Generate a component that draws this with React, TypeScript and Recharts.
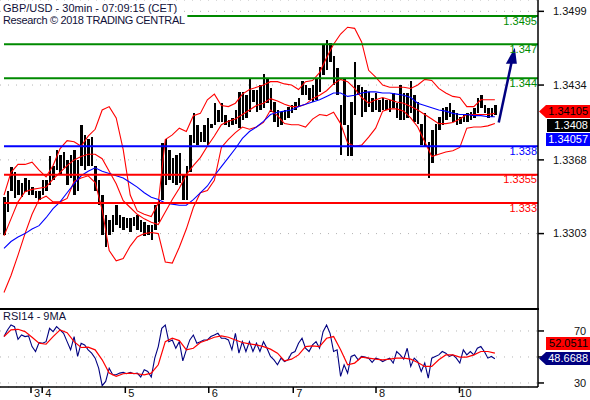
import React from 'react';
import {
  Bar,
  CartesianGrid,
  ComposedChart,
  Line,
  ReferenceDot,
  ReferenceLine,
  XAxis,
  YAxis,
} from 'recharts';

// prices are kept in pips (1.3434 -> 13434), one bar here is one hour
const highs = [
  13335, 13341, 13362, 13357, 13350, 13348, 13352, 13350, 13344, 13341, 13341, 13350, 13350, 13371, 13363, 13377, 13372, 13375, 13368, 13372,
  13377, 13368, 13399, 13390, 13386, 13388, 13363, 13350, 13337, 13319, 13315, 13319, 13328, 13319, 13318, 13317, 13317, 13318, 13319, 13315,
  13313, 13311, 13311, 13328, 13333, 13383, 13386, 13377, 13370, 13372, 13374, 13355, 13363, 13390, 13409, 13399, 13393, 13399, 13405, 13400,
  13418, 13412, 13418, 13408, 13403, 13405, 13412, 13428, 13428, 13425, 13440, 13430, 13430, 13434, 13444, 13440, 13431, 13419, 13412, 13410,
  13412, 13415, 13416, 13419, 13423, 13438, 13434, 13431, 13434, 13440, 13450, 13469, 13474, 13471, 13460, 13449, 13416, 13440, 13399, 13419,
  13454, 13434, 13432, 13430, 13428, 13423, 13427, 13421, 13423, 13421, 13421, 13427, 13418, 13434, 13427, 13427, 13438, 13425, 13419, 13400,
  13409, 13384, 13394, 13400, 13406, 13414, 13415, 13418, 13412, 13409, 13406, 13408, 13409, 13410, 13414, 13423, 13425, 13416, 13414, 13414,
  13416,
];
const lows = [
  13302, 13322, 13341, 13334, 13337, 13335, 13340, 13337, 13337, 13334, 13333, 13337, 13341, 13346, 13350, 13359, 13355, 13361, 13346, 13352,
  13337, 13341, 13363, 13359, 13363, 13363, 13341, 13328, 13302, 13291, 13302, 13304, 13311, 13308, 13306, 13308, 13304, 13310, 13306, 13304,
  13301, 13302, 13297, 13306, 13313, 13333, 13346, 13350, 13348, 13346, 13348, 13333, 13333, 13357, 13383, 13381, 13384, 13384, 13381, 13396,
  13399, 13401, 13401, 13399, 13397, 13399, 13400, 13396, 13403, 13405, 13410, 13419, 13410, 13412, 13414, 13418, 13410, 13401, 13397, 13399,
  13403, 13405, 13409, 13412, 13415, 13425, 13425, 13421, 13419, 13421, 13428, 13443, 13447, 13454, 13434, 13425, 13372, 13399, 13371, 13371,
  13408, 13425, 13406, 13410, 13415, 13410, 13412, 13410, 13412, 13412, 13410, 13414, 13405, 13403, 13403, 13405, 13409, 13401, 13400, 13381,
  13379, 13352, 13365, 13372, 13394, 13399, 13403, 13406, 13401, 13399, 13400, 13401, 13401, 13403, 13405, 13409, 13414, 13409, 13405, 13406,
  13408,
];

// these are read every second bar
const upperBand = [
  13337, 13357, 13364, 13364, 13366, 13359, 13353, 13363, 13378, 13385, 13384, 13380, 13389, 13395, 13412, 13415, 13405, 13377, 13337, 13323,
  13320, 13318, 13330, 13386, 13390, 13396, 13393, 13407, 13409, 13421, 13426, 13416, 13415, 13418, 13426, 13430, 13432, 13434, 13437, 13437,
  13435, 13434, 13430, 13437, 13438, 13445, 13458, 13470, 13479, 13485, 13484, 13472, 13447, 13441, 13434, 13432, 13432, 13432, 13431, 13434,
  13439, 13438, 13431, 13427, 13424, 13423, 13415, 13415, 13421, 13421, 13421,
];
const middleBand = [
  13301, 13316, 13331, 13340, 13342, 13343, 13344, 13351, 13357, 13363, 13368, 13371, 13373, 13373, 13369, 13358, 13347, 13332, 13326, 13320,
  13316, 13313, 13311, 13322, 13333, 13343, 13355, 13363, 13370, 13380, 13389, 13399, 13402, 13404, 13408, 13412, 13416, 13418, 13422, 13420,
  13417, 13415, 13415, 13417, 13422, 13425, 13429, 13435, 13439, 13437, 13431, 13423, 13418, 13421, 13423, 13421, 13419, 13418, 13415, 13412,
  13408, 13404, 13400, 13400, 13401, 13404, 13408, 13408, 13408, 13408, 13409,
];
const lowerBand = [
  13251, 13266, 13284, 13303, 13320, 13333, 13336, 13331, 13331, 13334, 13349, 13352, 13354, 13348, 13324, 13288, 13279, 13281, 13292, 13300,
  13303, 13304, 13303, 13278, 13277, 13291, 13307, 13326, 13339, 13341, 13350, 13379, 13386, 13392, 13397, 13395, 13397, 13401, 13412, 13407,
  13400, 13399, 13399, 13397, 13404, 13408, 13407, 13410, 13400, 13383, 13380, 13381, 13388, 13396, 13411, 13413, 13413, 13411, 13405, 13397,
  13384, 13371, 13373, 13375, 13376, 13379, 13396, 13397, 13397, 13398, 13400,
];
const slowAverage = [
  13290, 13296, 13300, 13303, 13307, 13310, 13317, 13325, 13331, 13339, 13347, 13354, 13358, 13361, 13358, 13356, 13354, 13352, 13348, 13344,
  13339, 13335, 13333, 13330, 13329, 13328, 13328, 13333, 13339, 13345, 13354, 13362, 13370, 13378, 13387, 13393, 13397, 13402, 13408, 13410,
  13411, 13412, 13415, 13417, 13419, 13421, 13424, 13427, 13427, 13424, 13425, 13427, 13428, 13428, 13427, 13427, 13426, 13425, 13423, 13418,
  13416, 13414, 13412, 13411, 13409, 13408, 13408, 13407, 13407, 13406, 13406,
];

const rsiValues = [
  65.7, 70.8, 74.6, 73.3, 63.6, 66.9, 65.7, 66.2, 58, 54.2, 61.1, 60.6, 61.8, 72, 69.5, 73.3, 70.8, 68.2, 61.8, 55.5,
  65.7, 50.4, 60.6, 59.3, 55.5, 52.9, 49.1, 41.4, 27.9, 31.2, 41.4, 36.3, 36.3, 37.6, 38.1, 37.1, 38.1, 37.1, 37.6, 34.6,
  40.2, 38.9, 34.6, 49.1, 58, 72, 74.6, 61.8, 63.1, 56.7, 61.8, 47, 55.5, 63.1, 66.9, 60.6, 61.8, 63.1, 63.1, 65.7,
  66.9, 68.2, 64.4, 64.4, 63.1, 55.5, 68.2, 52.9, 61.8, 54.2, 61.8, 54.2, 60.6, 54.2, 61.8, 56.7, 50.4, 47.8, 44, 49.1,
  46.5, 47.8, 52.9, 54.2, 60.6, 64.4, 56.7, 54.2, 59.3, 61.8, 56.7, 69.5, 74.6, 68.2, 54.2, 55.5, 35.1, 44, 37.6, 50.4,
  51.6, 47.8, 50.4, 49.9, 49.1, 45.8, 49.1, 48.3, 46.5, 47.8, 49.1, 45.3, 54.2, 51.6, 48.3, 56.7, 42.7, 49.1, 46.5, 38.9,
  45.3, 33.8, 49.1, 50.4, 51.6, 54.2, 52.9, 50.4, 51.6, 49.1, 45.3, 55.5, 51.6, 54.2, 51.6, 56.7, 58, 54.2, 49.1, 50.4,
  48.7,
];
const rsiAverage = [
  65.7, 70.8, 71.3, 69.5, 65.2, 60.6, 59.8, 65.7, 70.8, 68.7, 61.8, 57.3, 57.5, 55.5, 47.8, 37.6, 35.1, 37.1, 37.6, 37.1,
  36.3, 37.6, 44, 61.8, 64.4, 62.6, 55.5, 56.7, 61.1, 63.1, 65.2, 66.2, 65.2, 63.1, 61.1, 60.1, 59.3, 58, 56, 52.9,
  47, 48.3, 51.6, 58, 58.5, 58, 64.4, 65.7, 55.5, 44, 45.3, 49.9, 49.1, 48.3, 47.8, 48.3, 49.1, 49.1, 48.3, 45.8,
  42.7, 42.7, 47.8, 51.6, 51.6, 49.9, 49.9, 51.6, 54.2, 54.2, 52.9,
];

const priceTicks = [13499, 13434, 13368, 13303];
const rsiTicks = [70, 50, 30];
const dayTicks = [7.7, 10.9, 34.6, 58.4, 82.5, 106.1, 129.9];
const dayLabels = ['3', '4', '5', '6', '7', '8', '10'];

const table = highs.map((high, i) => ({ bar: i, range: [lows[i], high], rsi: rsiValues[i] }));
// the smoother lines only have a point on every second bar
const every2 = (values: number[]) => values.map((value, k) => ({ bar: k * 2, value }));

const FONT = '"Liberation Sans", Arial, sans-serif';
const GREEN = '#008a00';
const BLUE = '#0000ff';
const RED = '#ff0000';
const NAVY = '#000080';
const xDomain: [number, number] = [-1.14, 152.3];

const Caption = ({ top, squeeze = 0, children }: { top: number; squeeze?: number; children: React.ReactNode }) => (
  <div style={{ position: 'absolute', left: 3, top, fontSize: 11, letterSpacing: squeeze, lineHeight: '13px', color: '#101038', whiteSpace: 'nowrap' }}>
    {children}
  </div>
);

const PriceTag = ({ top, left, height, bg, color, arrow, children }: any) => (
  <div
    style={{
      position: 'absolute',
      left,
      top,
      width: 590 - left,
      height,
      lineHeight: `${height}px`,
      background: bg,
      color,
      fontSize: 11,
      textAlign: 'right',
      paddingRight: 2,
      boxSizing: 'border-box',
      clipPath: arrow ? `polygon(0 50%, 7px 0, 100% 0, 100% 100%, 7px 100%)` : undefined,
    }}
  >
    {children}
  </div>
);

const levelLabel = (value: string, fill: string) => ({ value, fill, fontSize: 11, position: 'insideTopRight' as const, offset: 1 });

const smoothLine = (values: number[], stroke: string, width = 1.1) => (
  <Line data={every2(values)} dataKey="value" stroke={stroke} strokeWidth={width} dot={false} activeDot={false} isAnimationActive={false} />
);

export default function App() {
  return (
    <div style={{ position: 'absolute', left: 0, top: 0, width: 590, height: 400, background: '#fff', fontFamily: FONT, overflow: 'hidden' }}>
      <div style={{ position: 'absolute', left: 0, top: 0 }}>
        <ComposedChart width={590} height={309} data={table} margin={{ top: 0, right: 0, bottom: 0, left: 0 }}>
          <CartesianGrid horizontal vertical={false} stroke="#b4b4b4" strokeDasharray="1 7" />
          <XAxis dataKey="bar" type="number" domain={xDomain} hide allowDataOverflow />
          <YAxis
            orientation="right"
            width={52}
            domain={[13236.5, 13509]}
            ticks={priceTicks}
            interval={0}
            tickFormatter={(v: number) => (v / 10000).toFixed(4)}
            tick={{ fill: '#111', fontSize: 11 }}
            tickSize={6}
            tickMargin={9}
            stroke="#000"
            strokeWidth={1.5}
            allowDataOverflow
          />
          <Bar dataKey="range" barSize={2.5} fill="#000" shapeRendering="crispEdges" isAnimationActive={false} />
          {smoothLine(upperBand, RED)}
          {smoothLine(middleBand, RED)}
          {smoothLine(lowerBand, RED)}
          {smoothLine(slowAverage, BLUE)}
          <ReferenceLine segment={[{ x: 52.3, y: 13495 }, { x: 152.3, y: 13495 }]} stroke={GREEN} strokeWidth={2} label={levelLabel('1.3495', GREEN)} />
          <ReferenceLine segment={[{ x: 0, y: 13470 }, { x: 152.3, y: 13470 }]} stroke={GREEN} strokeWidth={2} label={levelLabel('1.347', GREEN)} />
          <ReferenceLine segment={[{ x: 0, y: 13440 }, { x: 152.3, y: 13440 }]} stroke={GREEN} strokeWidth={2} label={levelLabel('1.344', GREEN)} />
          <ReferenceLine segment={[{ x: 0, y: 13380 }, { x: 152.3, y: 13380 }]} stroke={BLUE} strokeWidth={2} label={levelLabel('1.338', BLUE)} />
          <ReferenceLine segment={[{ x: 0, y: 13355 }, { x: 152.3, y: 13355 }]} stroke={RED} strokeWidth={2} label={levelLabel('1.3355', RED)} />
          <ReferenceLine segment={[{ x: 0, y: 13330 }, { x: 152.3, y: 13330 }]} stroke={RED} strokeWidth={2} label={levelLabel('1.333', RED)} />
          <ReferenceLine segment={[{ x: 141.1, y: 13401 }, { x: 144.9, y: 13456 }]} stroke={NAVY} strokeWidth={2.5} />
          <ReferenceDot
            x={145.7}
            y={13467}
            shape={({ cx, cy }: any) => <polygon points={`${cx},${cy} ${cx + 2},${cy + 16} ${cx - 9},${cy + 16}`} fill={NAVY} />}
          />
        </ComposedChart>
      </div>

      <div style={{ position: 'absolute', left: 0, top: 309 }}>
        <ComposedChart width={590} height={91} data={table} margin={{ top: 0, right: 0, bottom: 0, left: 0 }}>
          <CartesianGrid horizontal vertical={false} stroke="#b4b4b4" strokeDasharray="1 7" />
          <XAxis
            dataKey="bar"
            type="number"
            domain={xDomain}
            ticks={dayTicks}
            interval={0}
            height={13}
            tickFormatter={(v: number) => dayLabels[dayTicks.indexOf(v)]}
            tick={{ fill: '#111', fontSize: 11, dx: 6 }}
            tickSize={6}
            tickMargin={-4}
            stroke="#000"
            strokeWidth={1.5}
            allowDataOverflow
          />
          <YAxis
            orientation="right"
            width={52}
            domain={[26.9, 86.9]}
            ticks={rsiTicks}
            interval={0}
            tickFormatter={(v: number) => (v === 50 ? '' : String(v))}
            tick={{ fill: '#111', fontSize: 11 }}
            tickSize={6}
            tickMargin={30}
            stroke="#000"
            strokeWidth={1.5}
            allowDataOverflow
          />
          <Line dataKey="rsi" stroke={NAVY} strokeWidth={1.1} dot={false} activeDot={false} isAnimationActive={false} />
          {smoothLine(rsiAverage, RED, 1.2)}
        </ComposedChart>
      </div>

      <div style={{ position: 'absolute', left: 0, top: 308, width: 539, height: 2, background: '#000' }} />

      <Caption top={2}>GBP/USD - 30min - 07:09:15 (CET)</Caption>
      <Caption top={14} squeeze={-0.35}>Research © 2018 TRADING CENTRAL</Caption>
      <Caption top={310}>RSI14 - 9MA</Caption>

      <PriceTag top={105} left={539} height={13} bg={RED} color="#000" arrow>1.34105</PriceTag>
      <PriceTag top={119} left={547} height={13} bg="#000" color="#fff">1.3408</PriceTag>
      <PriceTag top={133} left={546} height={13} bg={BLUE} color="#fff">1.34057</PriceTag>
      <PriceTag top={337} left={546} height={13} bg={RED} color="#000">52.0511</PriceTag>
      <PriceTag top={352} left={539} height={13} bg={NAVY} color="#fff" arrow>48.6688</PriceTag>
    </div>
  );
}
